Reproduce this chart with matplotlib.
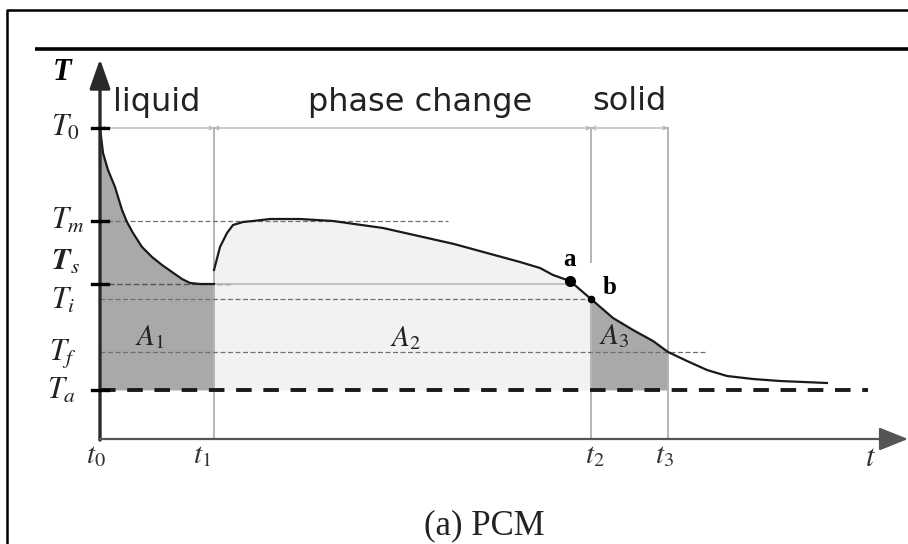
import matplotlib.pyplot as plt
import numpy as np

# temperature levels (arbitrary units)
T_levels = {"T0": 3.11, "Tm": 2.18, "Ts": 1.55, "Ti": 1.40, "Tf": 0.87, "Ta": 0.49}
# time markers
t_marks = {"t0": 0.0, "t1": 1.14, "t2": 4.91, "t3": 5.68}

# liquid cooling part of the curve (t0 -> t1)
liquid_t = np.array([0.0, 0.03, 0.08, 0.15, 0.22, 0.27, 0.33, 0.42, 0.52, 0.62, 0.72, 0.82, 0.90, 1.00, 1.14])
liquid_T = np.array([3.11, 2.86, 2.69, 2.52, 2.29, 2.17, 2.06, 1.92, 1.82, 1.74, 1.67, 1.60, 1.56, 1.55, 1.55])

# phase change + solid part of the curve (t1 -> end)
cool_t = np.array([1.14, 1.20, 1.27, 1.33, 1.43, 1.53, 1.70, 2.00, 2.33, 2.83, 3.54, 4.20, 4.40,
                   4.53, 4.70, 4.91, 5.13, 5.33, 5.53, 5.68, 5.87, 6.07, 6.27, 6.53, 6.80, 7.27])
cool_T = np.array([1.69, 1.92, 2.06, 2.14, 2.17, 2.18, 2.20, 2.20, 2.18, 2.11, 1.95, 1.77, 1.71,
                   1.64, 1.58, 1.40, 1.21, 1.09, 0.98, 0.87, 0.78, 0.69, 0.63, 0.60, 0.58, 0.56])

point_a = (4.70, 1.58)
point_b = (4.91, 1.40)

plt.rcParams['mathtext.fontset'] = 'stix'

fig = plt.figure(figsize=(9.08, 5.44), dpi=100)
ax = fig.add_axes([0, 0, 1, 1])
ax.set_xlim(-1.00, 8.08)
ax.set_ylim(-1.05, 4.39)
ax.axis('off')

dark = '#a9a9a9'
light = '#f2f2f2'
Ta = T_levels["Ta"]
t1, t2, t3 = t_marks["t1"], t_marks["t2"], t_marks["t3"]

# page frame
ax.plot([-0.93, -0.93, 8.08], [-1.05, 4.29, 4.29], color='black', lw=1.8, solid_capstyle='butt')
ax.plot([-0.65, 8.08], [3.90, 3.90], color='black', lw=2.6, solid_capstyle='butt')

# areas
ax.fill_between(liquid_t, liquid_T, Ta, color=dark, lw=0, zorder=1)
m2 = (cool_t >= t1) & (cool_t <= t2)
ax.fill_between(cool_t[m2], cool_T[m2], Ta, color=light, lw=0, zorder=1)
m3 = (cool_t >= t2) & (cool_t <= t3)
ax.fill_between(cool_t[m3], cool_T[m3], Ta, color=dark, lw=0, zorder=1)

# vertical time markers
vcol = '#b5b5b5'
ax.plot([t1, t1], [0, T_levels["T0"]], color=vcol, lw=1.4, zorder=2)
ax.plot([t3, t3], [0, T_levels["T0"]], color=vcol, lw=1.4, zorder=2)
ax.plot([t2, t2], [1.77, T_levels["T0"]], color=vcol, lw=1.4, zorder=2)
ax.plot([t2, t2], [0, 1.40], color=vcol, lw=1.4, zorder=2)

# dimension arrows at T0 level
for a0, a1 in [(0, t1), (t1, t2), (t2, t3)]:
    ax.annotate('', xy=(a1, T_levels["T0"]), xytext=(a0, T_levels["T0"]),
                arrowprops=dict(arrowstyle='<->', color='#b0b0b0', lw=0.9,
                                mutation_scale=6, shrinkA=0, shrinkB=0), zorder=2)

# horizontal reference lines
dcol = '#707070'
ax.plot([0, 3.48], [T_levels["Tm"]] * 2, color=dcol, lw=0.9, ls=(0, (4, 2)), zorder=2)
ax.plot([0, 1.30], [T_levels["Ts"]] * 2, color='#555555', lw=1.0, ls=(0, (4, 2)), zorder=2)
ax.plot([t1, point_a[0] - 0.03], [T_levels["Ts"]] * 2, color='#b8b8b8', lw=1.2, zorder=2)
ax.plot([0, t2], [T_levels["Ti"]] * 2, color=dcol, lw=0.9, ls=(0, (4, 2)), zorder=2)
ax.plot([0, 6.07], [T_levels["Tf"]] * 2, color=dcol, lw=0.9, ls=(0, (4, 2)), zorder=2)
ax.plot([0, 7.68], [Ta] * 2, color='#1a1a1a', lw=2.8, ls=(0, (4, 3)), zorder=3)

# the temperature curve
ax.plot(liquid_t, liquid_T, color='#1a1a1a', lw=1.6, solid_joinstyle='round', zorder=4)
ax.plot(cool_t, cool_T, color='#1a1a1a', lw=1.6, solid_joinstyle='round', zorder=4)
ax.plot(*point_a, 'o', color='black', ms=7, zorder=5)
ax.plot(*point_b, 'o', color='black', ms=4.5, zorder=5)

# axes with arrows
ax.annotate('', xy=(0, 3.80), xytext=(0, -0.01),
            arrowprops=dict(arrowstyle='-|>,head_length=1.0,head_width=0.35', color='#2a2a2a',
                            lw=2.4, mutation_scale=18, shrinkA=0, shrinkB=0), zorder=6)
ax.annotate('', xy=(8.08, 0), xytext=(-0.01, 0),
            arrowprops=dict(arrowstyle='-|>,head_length=1.0,head_width=0.4', color='#555555',
                            lw=1.6, mutation_scale=18, shrinkA=0, shrinkB=0), zorder=6)

# ticks on the T axis
for key in ["T0", "Tm", "Ts", "Ta"]:
    ax.plot([-0.08, 0.08], [T_levels[key]] * 2, color='black', lw=2.4, zorder=6)

# phase labels
for txt, x in [("liquid", 0.57), ("phase change", 3.20), ("solid", 5.29)]:
    ax.text(x, 3.37, txt, fontsize=23, color='#222222', ha='center', va='center',
            family='DejaVu Sans')

# axis labels
ax.text(-0.38, 3.66, 'T', fontsize=22, family='Liberation Serif', style='italic',
        weight='bold', ha='center', va='center')
ax.text(7.71, -0.18, r'$t$', fontsize=22, color='#333333', ha='center', va='center')

T_labels = [(r'$T_0$', -0.34, 3.12), (r'$T_m$', -0.32, 2.19), (r'$\mathbfit{T}_s$', -0.35, 1.77),
            (r'$T_i$', -0.37, 1.39), (r'$T_f$', -0.37, 0.86), (r'$T_a$', -0.38, 0.49)]
for txt, x, y in T_labels:
    ax.text(x, y, txt, fontsize=22, color='#222222', ha='center', va='center')

t_labels = [(r'$t_0$', -0.04), (r'$t_1$', 1.02), (r'$t_2$', 4.95), (r'$t_3$', 5.64)]
for txt, x in t_labels:
    ax.text(x, -0.16, txt, fontsize=21, color='#333333', ha='center', va='center')

for txt, x, y in [(r'$A_1$', 0.50, 1.02), (r'$A_2$', 3.05, 1.01), (r'$A_3$', 5.14, 1.03)]:
    ax.text(x, y, txt, fontsize=21, color='#222222', ha='center', va='center')

ax.text(4.70, 1.79, 'a', fontsize=18, family='Liberation Serif', weight='bold',
        ha='center', va='center')
ax.text(5.10, 1.51, 'b', fontsize=18, family='Liberation Serif', weight='bold',
        ha='center', va='center')

ax.text(3.84, -0.87, '(a) PCM', fontsize=25, family='Liberation Serif', color='#222222',
        ha='center', va='center')

fig.savefig('out.png', dpi=100)
